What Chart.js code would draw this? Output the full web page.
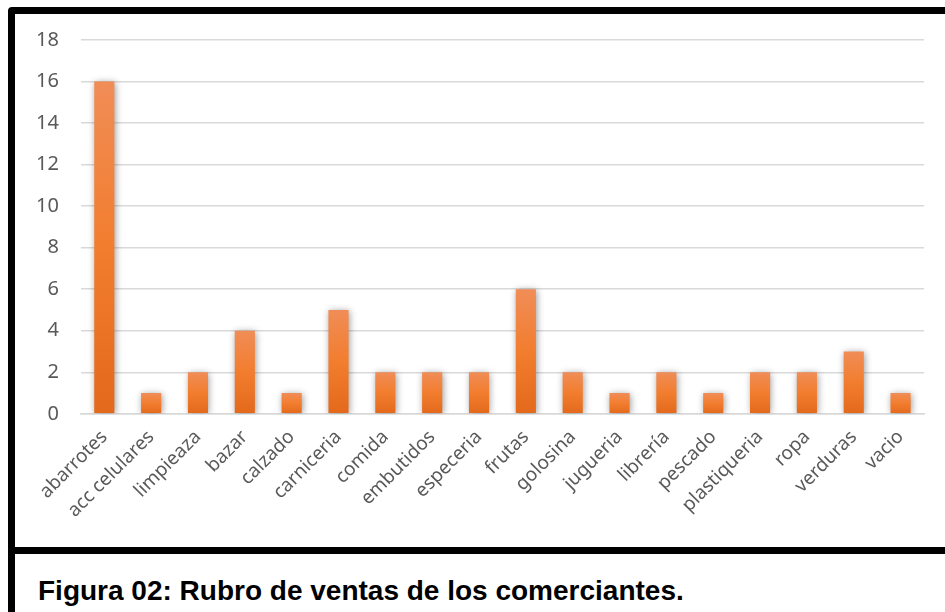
<!DOCTYPE html>
<html lang="es">
<head>
<meta charset="utf-8">
<title>Rubro de ventas</title>
<script src="https://cdn.jsdelivr.net/npm/chart.js@4/dist/chart.umd.min.js"></script>
<style>
    html, body { margin: 0; padding: 0; background: #fff; overflow: hidden; width: 945px; height: 612px; }
    .marco { position: absolute; left: 8px; top: 7px; width: 1000px; height: 533px; border: 7px solid #000; border-top-left-radius: 4px; background: #fff; }
    .linea { position: absolute; left: 8px; top: 554px; width: 7px; height: 80px; background: #000; }
    .grafico { position: absolute; left: 15px; top: 14px; width: 930px; height: 533px; }
    .titulo { position: absolute; left: 38px; top: 577px; font: bold 28px Arial, "Liberation Sans", sans-serif; line-height: 28px; color: #000; white-space: nowrap; }
</style>
</head>
<body>
<div class="marco"></div>
<div class="linea"></div>
<div class="grafico"><canvas id="barChart"></canvas></div>
<div class="titulo">Figura 02: Rubro de ventas de los comerciantes.</div>

<script>
"use strict";

// Datos
const categorias = ['abarrotes', 'acc celulares', 'limpieaza', 'bazar', 'calzado', 'carniceria', 'comida',
    'embutidos', 'especeria', 'frutas', 'golosina', 'jugueria', 'librería', 'pescado', 'plastiqueria',
    'ropa', 'verduras', 'vacio'];
const valores = [16, 1, 2, 4, 1, 5, 2, 2, 2, 6, 2, 1, 2, 1, 2, 2, 3, 1];
const ejeY = [0, 2, 4, 6, 8, 10, 12, 14, 16, 18];

// Sombra suave detras de las barras
const sombra = {
    id: 'sombra',
    beforeDatasetsDraw(chart) {
        const ctx = chart.ctx;
        ctx.save();
        ctx.shadowColor = 'rgba(0,0,0,0.4)';
        ctx.shadowBlur = 7;
        ctx.shadowOffsetX = 1;
        ctx.shadowOffsetY = 1;
    },
    afterDatasetsDraw(chart) {
        chart.ctx.restore();
    }
};

// Degradado naranja por barra (claro arriba, oscuro abajo)
function degradado(context) {
    const chart = context.chart;
    if (!chart.chartArea || context.type !== 'data') return '#F07D2E';
    const y = chart.scales.y;
    const arriba = y.getPixelForValue(context.raw);
    const abajo = y.getPixelForValue(0);
    const g = chart.ctx.createLinearGradient(0, arriba, 0, abajo);
    g.addColorStop(0, '#F08D57');
    g.addColorStop(0.5, '#F27D2E');
    g.addColorStop(1, '#E3691C');
    return g;
}

window.onload = init;

function init() {
    const barchartEl = document.getElementById('barChart');

    new Chart(barchartEl, {
        type: 'bar',
        data: {
            labels: categorias,
            datasets: [{
                data: valores,
                backgroundColor: degradado,
                borderWidth: 0,
                categoryPercentage: 1,
                barPercentage: 0.43
            }]
        },
        options: {
            responsive: true,
            maintainAspectRatio: false,
            animation: false,
            layout: { padding: { left: 17, right: 21, top: 26, bottom: 21 } },
            plugins: { legend: { display: false }, tooltip: { enabled: false } },
            scales: {
                x: {
                    grid: { display: false },
                    border: { color: '#D9D9D9', width: 1.5 },
                    ticks: {
                        autoSkip: false,
                        minRotation: 45,
                        maxRotation: 45,
                        padding: 4,
                        color: '#595959',
                        font: { family: '"Noto Sans", "Open Sans", sans-serif', size: 19 }
                    }
                },
                y: {
                    min: ejeY[0],
                    max: ejeY[ejeY.length - 1],
                    afterBuildTicks(scale) {
                        scale.ticks = ejeY.map(v => ({ value: v }));
                    },
                    grid: { color: '#D9D9D9', lineWidth: 1.5, tickLength: 18, tickColor: 'rgba(0,0,0,0)' },
                    border: { display: false },
                    ticks: {
                        padding: 4,
                        color: '#595959',
                        font: { family: '"Noto Sans", "Open Sans", sans-serif', size: 20 }
                    }
                }
            }
        },
        plugins: [sombra]
    });
}
</script>
</body>
</html>
